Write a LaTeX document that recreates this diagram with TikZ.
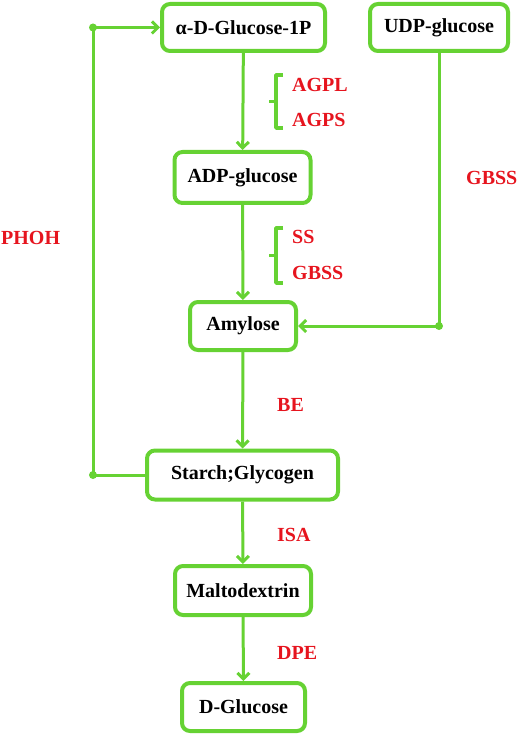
\documentclass[tikz,border=0pt]{standalone}
\usepackage{fontspec}
\setmainfont{Liberation Serif}
\usetikzlibrary{arrows.meta}
\definecolor{leaf}{RGB}{102,210,51}
\definecolor{enz}{RGB}{230,20,30}

\begin{document}
\begin{tikzpicture}[x=1pt, y=-1pt,
    >={Straight Barb[length=6pt, width=12pt]},
    box/.style={draw=leaf, line width=4pt, rounded corners=8pt, inner sep=0pt,
        font=\fontsize{20}{24}\selectfont\bfseries},
    flow/.style={draw=leaf, line width=3pt, ->},
    enzyme/.style={anchor=west, inner sep=0pt, text=enz,
        font=\fontsize{20}{24}\selectfont\bfseries},
    brace/.style={draw=leaf, line width=3.5pt, line join=round}]
    \useasboundingbox (0, 0) rectangle (520, 735);
    % metabolites
    \node[box, minimum width=163, minimum height=47] (glc1p) at (243.5, 27.5) {α-D-Glucose-1P};
    \node[box, minimum width=138, minimum height=47] (udp) at (439, 27.5) {UDP-glucose};
    \node[box, minimum width=136, minimum height=51] (adp) at (242.5, 177.5) {ADP-glucose};
    \node[box, minimum width=106, minimum height=48] (amy) at (243, 326) {Amylose};
    \node[box, minimum width=191, minimum height=49] (starch) at (242.5, 475) {Starch;Glycogen};
    \node[box, minimum width=136, minimum height=49] (malto) at (243, 590.5) {Maltodextrin};
    \node[box, minimum width=123, minimum height=48] (dglc) at (243.5, 707) {D-Glucose};
    % enzymes
    \node[enzyme] (agpl) at (292, 85) {AGPL};
    \node[enzyme] (agps) at (292, 120) {AGPS};
    \node[enzyme] (ss) at (292, 237) {SS};
    \node[enzyme] (gbss) at (292, 273) {GBSS};
    \node[enzyme] (gbssr) at (466, 178) {GBSS};
    \node[enzyme] (phoh) at (1, 238) {PHOH};
    \node[enzyme] (be) at (277, 405) {BE};
    \node[enzyme] (isa) at (277, 535) {ISA};
    \node[enzyme] (dpe) at (277, 653) {DPE};
    % braces
    \draw[brace] (283, 75) -- (276, 75) -- (276, 128) -- (283, 128);
    \draw[brace] (276, 101.5) -- (269, 101.5);
    \draw[brace] (283, 228) -- (276, 228) -- (276, 283) -- (283, 283);
    \draw[brace] (276, 255.5) -- (269, 255.5);
    % main chain
    \draw[flow] (glc1p) -- (adp);
    \draw[flow] (adp) -- (amy);
    \draw[flow] (amy) -- (starch);
    \draw[flow] (starch) -- (malto);
    \draw[flow] (malto) -- (dglc);
    % side routes
    \coordinate (rdot) at (439, 326);
    \draw[flow] (udp.south) -- (rdot) -- (amy.east);
    \fill[leaf] (rdot) circle (4);
    \coordinate (ldown) at (93, 475);
    \coordinate (lup) at (93, 27.5);
    \draw[flow] (starch.west) -- (ldown) -- (lup) -- (glc1p.west);
    \fill[leaf] (ldown) circle (4);
    \fill[leaf] (lup) circle (4);
\end{tikzpicture}
\end{document}
